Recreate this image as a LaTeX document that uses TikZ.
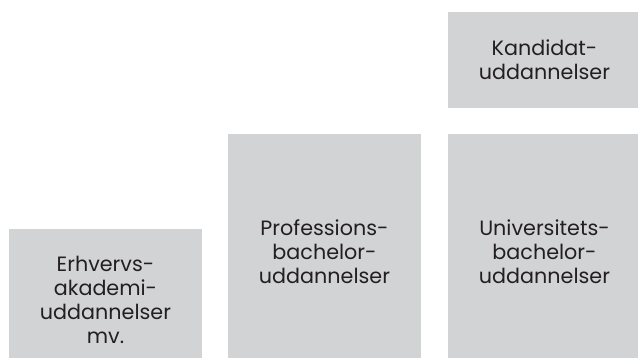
\documentclass[tikz,border=0pt]{standalone}
\usepackage{fontspec}
\setmainfont{Poppins}
\definecolor{boxgray}{HTML}{D2D3D5}
\definecolor{inkdark}{HTML}{231F20}

\begin{document}
\begin{tikzpicture}[x=1pt,y=-1pt,
    edu/.style={rectangle,fill=boxgray,inner sep=0pt,minimum width=193pt,
      align=center,text=inkdark,font=\fontsize{20.7}{24}\selectfont}]
  \useasboundingbox (0,0) rectangle (638,358);
  \clip (0,0) rectangle (638,358);
  \node[edu,minimum height=141pt] (erhverv) at (105.5,299.5) {Erhvervs-\\akademi-\\uddannelser\\mv.};
  \node[edu,minimum height=236pt] (profbach) at (324.5,252) {Professions-\\bachelor-\\uddannelser};
  \node[edu,minimum height=236pt] (unibach) at (544.5,252) {Universitets-\\bachelor-\\uddannelser};
  \node[edu,minimum height=96pt,text depth=-6pt] (kandidat) at (544.5,60) {Kandidat-\\uddannelser};
\end{tikzpicture}
\end{document}
